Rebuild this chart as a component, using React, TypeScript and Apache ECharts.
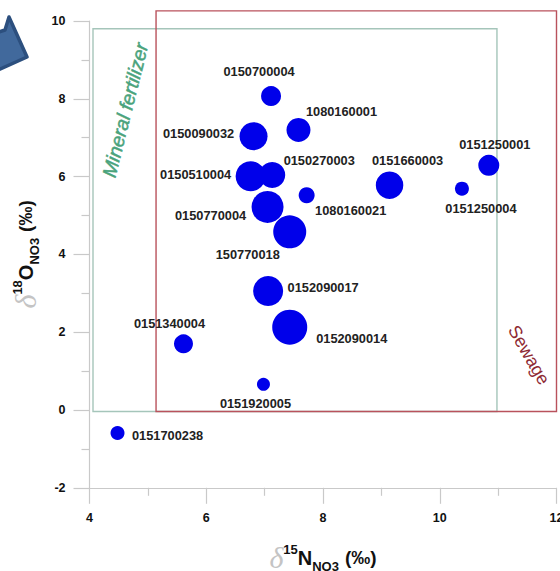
import React, { useEffect, useRef } from "react";
import * as echarts from "echarts";

const sites = ["0150700004","1080160001","0150090032","0150510004","0150270003","1080160021","0151660003","0151250001","0151250004","0150770004","150770018","0152090017","0152090014","0151340004","0151920005","0151700238"];
const d15N = [7.11,7.58,6.81,6.76,7.13,7.72,9.14,10.84,10.38,7.05,7.43,7.06,7.43,5.61,6.98,4.48];
const d18O = [8.07,7.2,7.04,6.01,6.04,5.52,5.78,6.29,5.69,5.22,4.58,3.06,2.13,1.7,0.66,-0.59];
const bubbleSizes = [20,24,28,30,26,16,27.5,21,14,32,33,30,35,19,13,14];
const labelOffsets: number[][] = [[-12,-25],[43,-18],[-55,-3],[-55,-2],[47,-15],[44,15],[18,-25],[6,-21],[19,20],[-57,9],[-42,23],[55,-3],[62,11],[-14,-20],[-8,19],[50,3]];
const zones = [
  { name: "Mineral fertilizer", x: [4.06, 10.98], y: [-0.04, 9.8], color: "#a5c5ba" },
  { name: "Sewage", x: [5.14, 12], y: [-0.04, 10.26], color: "#b9525c" },
];
const xTicks = { min: 4, max: 12, interval: 2 };
const yTicks = { min: -2, max: 10, interval: 2 };

const font = "Liberation Sans";
const subRich = {
  delta: { fontFamily: "Liberation Serif", fontStyle: "italic", fontSize: 30, color: "#c4c4c4", fontWeight: 400, verticalAlign: "bottom", lineHeight: 30 },
  sup: { fontFamily: font, fontWeight: 700, fontSize: 13, color: "#111", verticalAlign: "top", lineHeight: 26 },
  main: { fontFamily: font, fontWeight: 700, fontSize: 20, color: "#111", verticalAlign: "middle", lineHeight: 26 },
  sub: { fontFamily: font, fontWeight: 700, fontSize: 13, color: "#111", verticalAlign: "bottom", lineHeight: 20 },
  unit: { fontFamily: font, fontWeight: 700, fontSize: 19, color: "#111", verticalAlign: "middle", lineHeight: 26, padding: [0, 0, 0, 6] },
};

const axisCommon = {
  nameLocation: "middle" as const,
  axisLine: { onZero: false, lineStyle: { color: "#c9c9c9", width: 1.2 } },
  axisTick: { length: 16, lineStyle: { color: "#c9c9c9", width: 1.2 } },
  minorTick: { show: true, splitNumber: 2, length: 8, lineStyle: { color: "#c9c9c9", width: 1.2 } },
  splitLine: { show: false },
  minorSplitLine: { show: false },
  axisLabel: { fontFamily: font, fontWeight: 700, fontSize: 12.5, color: "#111", margin: 24 },
};

export default function App() {
  const ref = useRef<HTMLDivElement>(null);
  useEffect(() => {
    const chart = echarts.init(ref.current!, undefined, { renderer: "svg" });
    chart.setOption({
      animation: false,
      grid: { left: 89.5, right: 3.5, top: 21, bottom: 83.2, containLabel: false, outerBoundsMode: "none" },
      xAxis: {
        type: "value", ...xTicks, ...axisCommon,
        name: "{delta|δ}{sup|15}{main|N}{sub|NO3}{unit|(‰)}",
        nameGap: 55,
        nameTextStyle: { rich: subRich },
      },
      yAxis: {
        type: "value", ...yTicks, ...axisCommon,
        name: "{delta|δ}{sup|18}{main|O}{sub|NO3}{unit|(‰)}",
        nameRotate: 90,
        nameGap: 48,
        nameTextStyle: { rich: subRich },
      },
      series: [
        {
          type: "custom",
          silent: true,
          z: 1,
          data: zones.map((z) => [z.x[0], z.y[0], z.x[1], z.y[1]]),
          encode: { x: [0, 2], y: [1, 3] },
          renderItem: (params: any, api: any) => {
            const a = api.coord([api.value(0), api.value(1)]);
            const b = api.coord([api.value(2), api.value(3)]);
            return {
              type: "rect",
              shape: { x: a[0], y: b[1], width: b[0] - a[0], height: a[1] - b[1] },
              style: { fill: "none", stroke: zones[params.dataIndex].color, lineWidth: 1.4 },
            };
          },
        },
        {
          type: "scatter",
          z: 3,
          data: sites.map((s, i) => ({
            name: s,
            value: [d15N[i], d18O[i]],
            symbolSize: bubbleSizes[i],
            label: {
              show: true, position: "inside", formatter: s, offset: labelOffsets[i],
              fontFamily: font, fontWeight: 700, fontSize: 12.8, color: "#222",
            },
          })),
          itemStyle: { color: "#0000ea", opacity: 1 },
        },
      ],
      graphic: [
        {
          type: "polygon",
          shape: { points: [[-4, 33], [5, 30], [9, 17], [27, 57], [-4, 71]] },
          style: { fill: "#41699c", stroke: "#2c4f7e", lineWidth: 3.5, lineJoin: "round" },
        },
        {
          type: "text", x: 125, y: 110, rotation: 1.326,
          style: { text: zones[0].name, fill: "#4aa37c", font: `italic 400 19.5px "${font}"`, align: "center", verticalAlign: "middle", stroke: "#4aa37c", lineWidth: 0.5 },
        },
        {
          type: "text", x: 529, y: 355, rotation: -1.05,
          style: { text: zones[1].name, fill: "#8e2a33", font: `400 18px "${font}"`, align: "center", verticalAlign: "middle" },
        },
      ],
    });
    return () => chart.dispose();
  }, []);
  return <div ref={ref} style={{ position: "absolute", left: 0, top: 0, width: 560, height: 571 }} />;
}
